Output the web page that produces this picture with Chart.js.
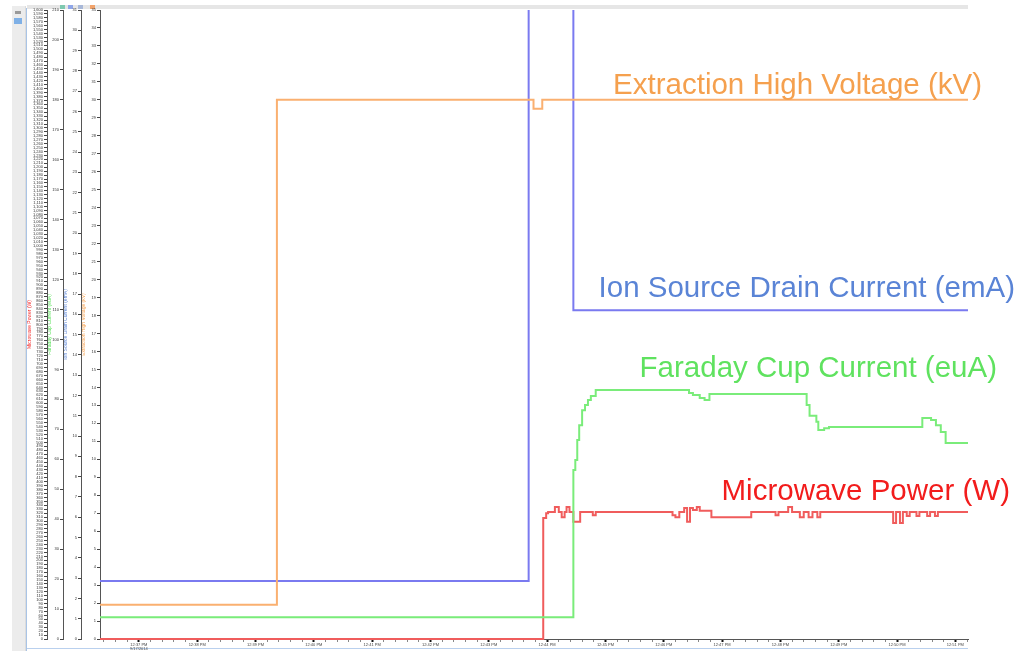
<!DOCTYPE html>
<html>
<head>
<meta charset="utf-8">
<title>Ion source start-up trend</title>
<script src="https://cdn.jsdelivr.net/npm/chart.js@4"></script>
<style>
  html, body { margin: 0; padding: 0; background: #fff; }
  #wrap { position: relative; width: 1016px; height: 651px; overflow: hidden; }
  #side { position: absolute; left: 12px; top: 6px; width: 13px; height: 645px; background: #ececec; border-right: 1px solid #dcdcdc; }
  #side .ico { position: absolute; left: 3px; top: 5px; width: 6px; height: 3px; background: #9a9a9a; }
  #side .sel { position: absolute; left: 2px; top: 12px; width: 8px; height: 6px; background: #7fb0e6; }
  #sideLine { position: absolute; left: 26px; top: 8px; width: 1px; height: 643px; background: #a9c4e6; }
  #topBar { position: absolute; left: 27px; top: 5px; width: 941px; height: 4px; background: #e6e6e6; }
  #topBar i { position: absolute; top: 0; width: 5px; height: 4px; }
  #botLine { position: absolute; left: 27px; top: 648px; width: 941px; height: 1px; background: #b9d0ee; }
  canvas { position: absolute; left: 0; top: 0; }
</style>
</head>
<body>
<div id="wrap">
  <div id="side"><div class="ico"></div><div class="sel"></div></div>
  <div id="sideLine"></div>
  <div id="topBar">
    <i style="left:33px;background:#7fc9b0"></i>
    <i style="left:41px;background:#8fa6e8"></i>
    <i style="left:51px;background:#a8b8d8"></i>
    <i style="left:63px;background:#f2a36b"></i>
  </div>
  <div id="botLine"></div>
  <canvas id="c" width="1016" height="651"></canvas>
</div>
<script>
// Elapsed time in seconds from the start of the trend window
const X_MAX = 893;

// Extraction high voltage (kV)
const hvTime = [0, 182, 446, 455, 893];
const hvKV   = [1.9, 30.0, 29.5, 30.0, 30.0];

// Ion source drain current (emA); 40 is beyond the axis and runs off the top
const drainTime = [0, 441, 487, 893];
const drainMA   = [2.86, 40, 16.2, 16.2];

// Faraday cup current (euA)
const cupTime = [0, 487, 489, 491, 493, 496, 499, 502, 505, 510, 606, 610, 617, 622, 627,
                 727, 730, 737, 739, 745, 750, 846, 855, 860, 865, 870, 893];
const cupUA   = [7.3, 56.4, 59.8, 66.4, 71.4, 76.4, 78.1, 79.8, 81.1, 83.1, 82.1, 81.5, 80.5, 79.8, 81.8,
                 78.1, 74.5, 72.5, 69.8, 70.4, 70.8, 73.8, 73.1, 71.4, 69.1, 65.4, 65.4];

// Microwave power (W)
const mwTime = [0, 456, 459, 461, 468, 472, 475, 478, 480, 483, 487, 494, 507, 510,
                589, 592, 596, 601, 604, 607, 610, 614, 617, 629, 670, 695, 698, 708, 712,
                720, 724, 729, 733, 738, 741, 816, 819, 823, 826, 830, 833, 840, 843, 851,
                854, 859, 862, 893];
const mwW    = [0, 308, 320, 323, 336, 323, 310, 323, 336, 323, 298, 323, 315, 323,
                315, 310, 323, 333, 298, 333, 328, 336, 326, 310, 323, 315, 323, 336, 323,
                310, 323, 310, 323, 310, 323, 295, 323, 295, 323, 313, 323, 313, 323, 313,
                323, 313, 323, 323];

// Clock labels for the major time ticks
const timeLabels = ['12:37 PM', '12:38 PM', '12:39 PM', '12:40 PM', '12:41 PM', '12:42 PM',
                    '12:43 PM', '12:44 PM', '12:45 PM', '12:46 PM', '12:47 PM', '12:48 PM',
                    '12:49 PM', '12:50 PM', '12:51 PM'];
const dateLabel = '9/17/2014';
const FIRST_MAJOR = 40;   // seconds
const MAJOR_STEP = 60;
const MINOR_STEP = 12;

// Series names and colours
const seriesNames = ['Extraction High Voltage (kV)', 'Ion Source Drain Current (emA)',
                     'Faraday Cup Current (euA)', 'Microwave Power (W)'];
const lineColors = ['rgb(250,176,112)', 'rgb(122,122,240)', 'rgb(122,236,122)', 'rgb(240,92,92)'];
const textColors = ['#f5a04e', '#5a84d6', '#5fe25f', '#f21c1c'];

const toPoints = (ts, vs) => ts.map((t, i) => ({ x: t, y: vs[i] }));

function fixWidth(w) { return scale => { scale.width = w; }; }

function yAxis(opts) {
  return {
    position: 'left',
    weight: opts.weight,
    min: opts.min,
    max: opts.max,
    afterFit: fixWidth(opts.width),
    border: { color: '#555', width: 1 },
    grid: { drawOnChartArea: false, tickLength: 3, tickColor: '#444' },
    ticks: {
      stepSize: opts.step,
      autoSkip: false,
      font: { size: 4, family: 'Liberation Sans, Arial, sans-serif' },
      color: '#333',
      padding: 1
    },
    title: {
      display: true,
      text: opts.title,
      color: opts.color,
      padding: { top: 0, bottom: 1 },
      font: { size: 5, family: 'Liberation Sans, Arial, sans-serif' }
    }
  };
}

// Series captions drawn to the right of the traces
const captionPlugin = {
  id: 'captions',
  afterDraw(chart) {
    const ctx = chart.ctx;
    const spots = [[982, 94], [1015, 297], [997, 377], [1010, 500]];
    ctx.save();
    ctx.font = '29.5px "Liberation Sans", Arial, sans-serif';
    ctx.textAlign = 'right';
    ctx.textBaseline = 'alphabetic';
    seriesNames.forEach((name, i) => {
      ctx.fillStyle = textColors[i];
      ctx.fillText(name, spots[i][0], spots[i][1]);
    });
    ctx.restore();
  }
};

new Chart(document.getElementById('c'), {
  type: 'line',
  data: {
    datasets: [
      { label: seriesNames[0], data: toPoints(hvTime, hvKV), yAxisID: 'yHV',
        borderColor: lineColors[0], stepped: true },
      { label: seriesNames[1], data: toPoints(drainTime, drainMA), yAxisID: 'yDrain',
        borderColor: lineColors[1], stepped: true },
      { label: seriesNames[2], data: toPoints(cupTime, cupUA), yAxisID: 'yCup',
        borderColor: lineColors[2], stepped: true },
      { label: seriesNames[3], data: toPoints(mwTime, mwW), yAxisID: 'yMW',
        borderColor: lineColors[3], stepped: true,
        clip: { left: 0, top: 0, right: 0, bottom: 2 } }
    ]
  },
  options: {
    responsive: false,
    animation: false,
    layout: { padding: { left: 27, right: 48, top: 10, bottom: 0 } },
    elements: { point: { radius: 0 }, line: { borderWidth: 2, tension: 0 } },
    plugins: { legend: { display: false }, tooltip: { enabled: false } },
    scales: {
      x: {
        type: 'linear',
        min: 0,
        max: X_MAX,
        afterFit: scale => { scale.height = 12; },
        afterBuildTicks: scale => {
          const ticks = [];
          for (let v = FIRST_MAJOR - 3 * MINOR_STEP; v <= X_MAX; v += MINOR_STEP) ticks.push({ value: v });
          scale.ticks = ticks;
        },
        border: { color: '#555', width: 1 },
        grid: {
          drawOnChartArea: false,
          tickLength: 3,
          tickColor: c => (((c.tick && c.tick.value) - FIRST_MAJOR) % MAJOR_STEP === 0 ? '#111' : '#888'),
          tickWidth: c => (((c.tick && c.tick.value) - FIRST_MAJOR) % MAJOR_STEP === 0 ? 2 : 1)
        },
        ticks: {
          autoSkip: false,
          maxRotation: 0,
          padding: 0,
          color: '#444',
          font: { size: 4, family: 'Liberation Sans, Arial, sans-serif' },
          callback: v => {
            const k = (v - FIRST_MAJOR) / MAJOR_STEP;
            if (!Number.isInteger(k) || k < 0 || k >= timeLabels.length) return '';
            return k === 0 ? [timeLabels[0], dateLabel] : timeLabels[k];
          }
        }
      },
      yHV:    yAxis({ weight: 1, min: 0, max: 35,   step: 1,  width: 19, title: seriesNames[0], color: textColors[0] }),
      yDrain: yAxis({ weight: 2, min: 0, max: 31,   step: 1,  width: 18, title: seriesNames[1], color: textColors[1] }),
      yCup:   yAxis({ weight: 3, min: 0, max: 210,  step: 10, width: 16, title: seriesNames[2], color: textColors[2] }),
      yMW:    yAxis({ weight: 4, min: 0, max: 1600, step: 10, width: 20, title: seriesNames[3], color: textColors[3] })
    }
  },
  plugins: [captionPlugin]
});
</script>
</body>
</html>
